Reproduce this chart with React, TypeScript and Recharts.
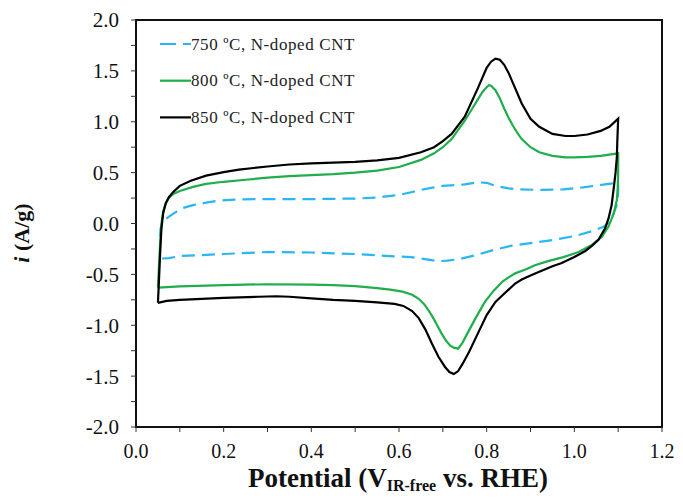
import React from 'react';
import { LineChart, Line, XAxis, YAxis, ReferenceArea } from 'recharts';

// potential (V) , current (A/g) pairs, traced in scan order around each loop
const cv750: [number, number][] = [
  [0.055, -0.13], [0.056, -0.05], [0.06, 0.0], [0.067, 0.04], [0.075, 0.067], [0.09, 0.11],
  [0.105, 0.15], [0.13, 0.18], [0.16, 0.205], [0.19, 0.225], [0.225, 0.235], [0.27, 0.24],
  [0.31, 0.24], [0.4, 0.24], [0.46, 0.243], [0.5, 0.245], [0.55, 0.255], [0.6, 0.28],
  [0.63, 0.31], [0.65, 0.33], [0.68, 0.355], [0.7, 0.37], [0.75, 0.385], [0.78, 0.405],
  [0.8, 0.4], [0.82, 0.37], [0.85, 0.345], [0.875, 0.335], [0.925, 0.33], [0.975, 0.335],
  [1.02, 0.355], [1.07, 0.385], [1.1, 0.4],
  [1.1, 0.3], [1.098, 0.2], [1.095, 0.16], [1.083, 0.03], [1.068, -0.03], [1.044, -0.07],
  [1.004, -0.12], [0.955, -0.16], [0.905, -0.19], [0.855, -0.22], [0.816, -0.26], [0.776, -0.31],
  [0.737, -0.35], [0.71, -0.365], [0.69, -0.37], [0.667, -0.355], [0.628, -0.33], [0.578, -0.32],
  [0.5, -0.3], [0.4, -0.285], [0.3, -0.28], [0.2, -0.3], [0.1, -0.32], [0.075, -0.34], [0.055, -0.345],
];

const cv800: [number, number][] = [
  [0.05, -0.63], [0.052, -0.45], [0.055, -0.2], [0.058, 0.0], [0.062, 0.12], [0.068, 0.2],
  [0.075, 0.25], [0.085, 0.29], [0.1, 0.32], [0.13, 0.36], [0.16, 0.39], [0.2, 0.41],
  [0.25, 0.43], [0.3, 0.45], [0.35, 0.465], [0.4, 0.475], [0.45, 0.485], [0.5, 0.5],
  [0.55, 0.52], [0.6, 0.555], [0.65, 0.625], [0.68, 0.69], [0.7, 0.75], [0.72, 0.83],
  [0.75, 1.01], [0.77, 1.15], [0.78, 1.22], [0.79, 1.29], [0.8, 1.34], [0.805, 1.36],
  [0.81, 1.355], [0.82, 1.31], [0.83, 1.23], [0.84, 1.13], [0.85, 1.04], [0.86, 0.96],
  [0.87, 0.89], [0.88, 0.83], [0.9, 0.75], [0.92, 0.7], [0.95, 0.665], [0.98, 0.65],
  [1.0, 0.65], [1.03, 0.655], [1.06, 0.665], [1.1, 0.69],
  [1.1, 0.5], [1.099, 0.35], [1.097, 0.23], [1.09, 0.1], [1.078, -0.03], [1.063, -0.13],
  [1.04, -0.21], [1.01, -0.28], [0.975, -0.33], [0.94, -0.37], [0.91, -0.41], [0.89, -0.45],
  [0.865, -0.49], [0.85, -0.53], [0.836, -0.57], [0.816, -0.66], [0.796, -0.77], [0.776, -0.92],
  [0.756, -1.08], [0.745, -1.17], [0.735, -1.23], [0.725, -1.22], [0.717, -1.2], [0.707, -1.15],
  [0.697, -1.08], [0.687, -1.0], [0.677, -0.92], [0.667, -0.85], [0.657, -0.79], [0.645, -0.74],
  [0.63, -0.7], [0.608, -0.67], [0.58, -0.65], [0.55, -0.635], [0.5, -0.615], [0.45, -0.605],
  [0.4, -0.6], [0.3, -0.597], [0.2, -0.605], [0.1, -0.617], [0.05, -0.63],
];

const cv850: [number, number][] = [
  [0.05, -0.78], [0.052, -0.6], [0.055, -0.3], [0.058, -0.05], [0.062, 0.1], [0.068, 0.2],
  [0.075, 0.26], [0.085, 0.31], [0.1, 0.37], [0.125, 0.42], [0.16, 0.47], [0.2, 0.505],
  [0.235, 0.53], [0.3, 0.56], [0.35, 0.58], [0.4, 0.59], [0.45, 0.598], [0.5, 0.605],
  [0.55, 0.62], [0.6, 0.645], [0.65, 0.7], [0.68, 0.75], [0.7, 0.81], [0.72, 0.88],
  [0.75, 1.05], [0.78, 1.33], [0.8, 1.53], [0.81, 1.59], [0.82, 1.62], [0.83, 1.61],
  [0.84, 1.56], [0.85, 1.48], [0.86, 1.38], [0.88, 1.18], [0.9, 1.03], [0.92, 0.95],
  [0.95, 0.88], [0.98, 0.86], [1.0, 0.86], [1.03, 0.875], [1.06, 0.91], [1.08, 0.95], [1.1, 1.03],
  [1.098, 0.8], [1.097, 0.65], [1.094, 0.5], [1.09, 0.35], [1.085, 0.18], [1.078, 0.05],
  [1.07, -0.05], [1.055, -0.16], [1.04, -0.22], [1.025, -0.27], [1.0, -0.33], [0.97, -0.39],
  [0.95, -0.42], [0.92, -0.475], [0.9, -0.51], [0.88, -0.55], [0.865, -0.59], [0.85, -0.65],
  [0.835, -0.71], [0.82, -0.77], [0.8, -0.9], [0.78, -1.08], [0.76, -1.26], [0.745, -1.38],
  [0.735, -1.45], [0.725, -1.48], [0.715, -1.46], [0.705, -1.41], [0.69, -1.31], [0.675, -1.18],
  [0.66, -1.04], [0.645, -0.93], [0.63, -0.86], [0.61, -0.81], [0.59, -0.79], [0.55, -0.775],
  [0.5, -0.76], [0.45, -0.75], [0.4, -0.735], [0.35, -0.72], [0.32, -0.715], [0.28, -0.72],
  [0.2, -0.73], [0.15, -0.74], [0.1, -0.75], [0.07, -0.76], [0.05, -0.78],
];

const seriesNames = ['750 ºC, N-doped CNT', '800 ºC, N-doped CNT', '850 ºC, N-doped CNT'];
const seriesColors = ['#29b6f2', '#1fae4b', '#000000'];
const seriesDash = ['13 7', undefined, undefined];
const legendDash = ['16 7', undefined, undefined];

const xTicks = [0, 0.1, 0.2, 0.3, 0.4, 0.5, 0.6, 0.7, 0.8, 0.9, 1.0, 1.1, 1.2];
const yTicks = [-2, -1.75, -1.5, -1.25, -1, -0.75, -0.5, -0.25, 0, 0.25, 0.5, 0.75, 1, 1.25, 1.5, 1.75, 2];

const toPoints = (arr: [number, number][]) => arr.map(([v, i]) => ({ v, i }));
const allSeries = [cv750, cv800, cv850].map(toPoints);

const FONT = '"Liberation Serif", "Times New Roman", serif';

const fmtX = (v: number) => (Math.round(v * 10) % 2 === 0 ? v.toFixed(1) : '');
const fmtY = (v: number) => (Math.round(v * 4) % 2 === 0 ? v.toFixed(1) : '');

const LegendBox = () => (
  <svg width={230} height={110} style={{ position: 'absolute', left: 150, top: 20 }}>
    {seriesNames.map((name, k) => {
      const y = 16 + k * 36.7;
      return (
        <g key={name}>
          <line x1={2} x2={33} y1={y} y2={y} stroke={seriesColors[k]} strokeWidth={2.2}
            strokeDasharray={legendDash[k]} />
          <text x={33} y={y} dy="0.33em" fontFamily={FONT} fontSize={17} fill="#222" letterSpacing={0.6}>
            {name}
          </text>
        </g>
      );
    })}
  </svg>
);

const XTitle = () => (
  <text x={390} y={479} textAnchor="middle" fontFamily={FONT} fontWeight="bold" fontSize={27} fill="#111">
    Potential (V
    <tspan fontSize={16} dy={4}>IR-free</tspan>
    <tspan dy={-4}> vs. RHE)</tspan>
  </text>
);

const YTitle = () => (
  <text x={13} y={225} transform="rotate(-90, 13, 225)" textAnchor="middle" dominantBaseline="central"
    fontFamily={FONT} fontWeight="bold" fontSize={22} fill="#111">
    <tspan fontStyle="italic">i</tspan> (A/g)
  </text>
);

export default function App() {
  return (
    <div style={{ position: 'relative', width: 667, height: 488 }}>
      <LineChart width={667} height={488} margin={{ top: 12, right: 13, bottom: 0, left: 0 }}>
        <XAxis
          type="number"
          dataKey="v"
          domain={[0, 1.2]}
          ticks={xTicks}
          tickFormatter={fmtX}
          interval={0}
          height={69}
          axisLine={false}
          tickLine={{ stroke: '#333' }}
          tickSize={5}
          tickMargin={12}
          tick={{ fill: '#111', fontSize: 20, fontFamily: FONT }}
          label={{ content: () => <XTitle /> }}
        />
        <YAxis
          type="number"
          domain={[-2, 2]}
          ticks={yTicks}
          tickFormatter={fmtY}
          interval={0}
          width={128}
          axisLine={false}
          tickLine={{ stroke: '#333' }}
          tickSize={5}
          tickMargin={12}
          tick={{ fill: '#111', fontSize: 21, fontFamily: FONT }}
          label={{ content: () => <YTitle /> }}
        />
        <ReferenceArea x1={0} x2={1.2} y1={-2} y2={2} fill="none" stroke="#111" strokeWidth={2} />
        {allSeries.map((data, k) => (
          <Line
            key={seriesNames[k]}
            data={data}
            dataKey="i"
            name={seriesNames[k]}
            type="linear"
            stroke={seriesColors[k]}
            strokeWidth={2.2}
            strokeDasharray={seriesDash[k]}
            dot={false}
            activeDot={false}
            isAnimationActive={false}
          />
        ))}
      </LineChart>
      <LegendBox />
    </div>
  );
}
